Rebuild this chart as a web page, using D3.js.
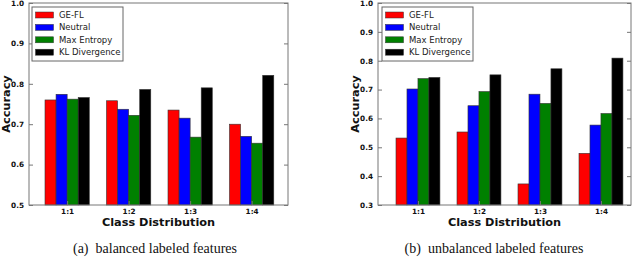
<!DOCTYPE html>
<html><head><meta charset="utf-8">
<script src="https://cdnjs.cloudflare.com/ajax/libs/d3/7.8.5/d3.min.js"></script>
<style>body{margin:0;background:#fff}svg{display:block}</style>
</head><body>
<svg id="c" width="640" height="257"></svg>
<script>
const categories = ["1:1", "1:2", "1:3", "1:4"];
const seriesNames = ["GE-FL", "Neutral", "Max Entropy", "KL Divergence"];
const colors = ["#ff0000", "#0000ff", "#008000", "#000000"];

// panel (a): balanced labeled features
const balGEFL = [0.760, 0.758, 0.735, 0.700];
const balNeutral = [0.774, 0.737, 0.715, 0.670];
const balMaxEnt = [0.762, 0.722, 0.668, 0.653];
const balKL = [0.766, 0.786, 0.790, 0.821];
const balTicks = [0.5, 0.6, 0.7, 0.8, 0.9, 1.0];

// panel (b): unbalanced labeled features
const unbGEFL = [0.532, 0.553, 0.373, 0.479];
const unbNeutral = [0.702, 0.644, 0.684, 0.577];
const unbMaxEnt = [0.738, 0.693, 0.652, 0.617];
const unbKL = [0.742, 0.751, 0.772, 0.809];
const unbTicks = [0.3, 0.4, 0.5, 0.6, 0.7, 0.8, 0.9, 1.0];

const svg = d3.select("#c");
const barW = 0.18;

function panel(cfg) {
  const g = svg.append("g");
  const x = d3.scaleLinear().domain(cfg.xdom).range([cfg.left, cfg.right]);
  const y = d3.scaleLinear().domain(cfg.ydom).range([cfg.bottom, cfg.top]);
  const series = cfg.series;
  series.forEach((vals, si) => {
    g.selectAll(null).data(vals).enter().append("rect")
      .attr("x", (d, i) => x(i + si * barW))
      .attr("width", x(barW) - x(0))
      .attr("y", d => y(d))
      .attr("height", d => y(cfg.ydom[0]) - y(d))
      .attr("fill", colors[si])
      .attr("stroke", "#333").attr("stroke-width", 0.6);
  });
  g.append("rect").attr("x", cfg.left).attr("y", cfg.top)
    .attr("width", cfg.right - cfg.left).attr("height", cfg.bottom - cfg.top)
    .attr("fill", "none").attr("stroke", "#777").attr("stroke-width", 1);
  const yAxis = d3.axisLeft(y).tickValues(cfg.yticks).tickFormat(d3.format(".1f"))
    .tickSizeInner(-4).tickSizeOuter(0).tickPadding(5);
  const ya = g.append("g").attr("transform", `translate(${cfg.left},0)`).call(yAxis);
  ya.select(".domain").remove();
  ya.selectAll("line").attr("stroke", "#777");
  ya.selectAll("text").attr("font-family", "DejaVu Sans").attr("font-weight", "bold")
    .attr("font-size", 7.3).attr("fill", "#111");
  const yR = d3.axisRight(y).tickValues(cfg.yticks).tickFormat("").tickSizeInner(-4).tickSizeOuter(0);
  const yr = g.append("g").attr("transform", `translate(${cfg.right},0)`).call(yR);
  yr.select(".domain").remove();
  yr.selectAll("line").attr("stroke", "#777");
  const xAxis = d3.axisBottom(x).tickValues(categories.map((c, i) => i + 2 * barW))
    .tickFormat((d, i) => categories[i]).tickSizeInner(-4).tickSizeOuter(0).tickPadding(4);
  const xa = g.append("g").attr("transform", `translate(0,${cfg.bottom})`).call(xAxis);
  xa.select(".domain").remove();
  xa.selectAll("line").attr("stroke", "#777");
  xa.selectAll("text").attr("font-family", "DejaVu Sans").attr("font-weight", "bold")
    .attr("font-size", 7.3).attr("fill", "#111");
  g.append("text").attr("x", (cfg.left + cfg.right) / 2).attr("y", 226)
    .attr("text-anchor", "middle").attr("font-family", "DejaVu Sans").attr("font-weight", "bold")
    .attr("font-size", 11.3).attr("fill", "#111").text("Class Distribution");
  g.append("text").attr("transform", `translate(${cfg.ylabX},104) rotate(-90)`)
    .attr("text-anchor", "middle").attr("dominant-baseline", "central")
    .attr("font-family", "DejaVu Sans").attr("font-weight", "bold")
    .attr("font-size", 11.3).attr("fill", "#111").text("Accuracy");
  const lg = g.append("g");
  lg.append("rect").attr("x", cfg.legX).attr("y", 7).attr("width", cfg.legW).attr("height", 54)
    .attr("fill", "#fff").attr("stroke", "#666").attr("stroke-width", 1);
  seriesNames.forEach((n, i) => {
    const cy = 15 + i * 12.4;
    lg.append("rect").attr("x", cfg.legX + 3.5).attr("y", cy - 3).attr("width", 18).attr("height", 6)
      .attr("fill", colors[i]).attr("stroke", "#333").attr("stroke-width", 0.5);
    lg.append("text").attr("x", cfg.legX + 27).attr("y", cy).attr("dominant-baseline", "central")
      .attr("font-family", "DejaVu Sans").attr("font-size", 8.5).attr("fill", "#222").text(n);
  });
  g.append("text").attr("x", cfg.capX).attr("y", 253).attr("text-anchor", "middle")
    .attr("font-family", "Liberation Serif").attr("font-size", 14).attr("fill", "#111")
    .attr("xml:space", "preserve").style("white-space", "pre").text(cfg.caption);
}

panel({
  left: 29, right: 288, top: 3, bottom: 205,
  xdom: [-16 / 61.5, 243 / 61.5], ydom: [0.5, 1.0], yticks: balTicks,
  series: [balGEFL, balNeutral, balMaxEnt, balKL],
  ylabX: 6, legX: 32, legW: 91, capX: 155, caption: "(a)  balanced labeled features"
});
panel({
  left: 378, right: 631, top: 3, bottom: 205,
  xdom: [-18 / 61, 235 / 61], ydom: [0.3, 1.0], yticks: unbTicks,
  series: [unbGEFL, unbNeutral, unbMaxEnt, unbKL],
  ylabX: 355, legX: 382, legW: 91, capX: 494, caption: "(b)  unbalanced labeled features"
});
</script>
</body></html>
